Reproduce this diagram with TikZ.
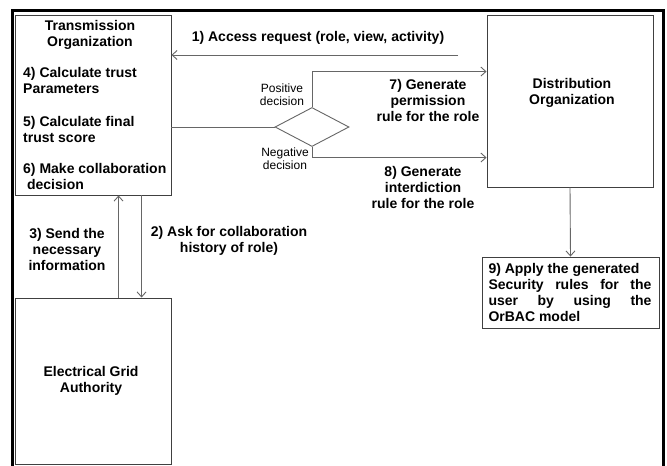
\documentclass[tikz,border=0pt]{standalone}
\usepackage{fontspec}
\setmainfont{Liberation Sans}
\usetikzlibrary{arrows.meta,shapes.geometric,calc}
\begin{document}
\begin{tikzpicture}[x=1pt,y=-1pt,
  box/.style={draw=black!75,line width=0.9pt,inner sep=0pt},
  arr/.style={draw=black!60,line width=0.9pt,-{Straight Barb[length=5pt,width=9pt]}},
  ln/.style={draw=black!60,line width=0.9pt},
  big/.style={font=\bfseries\fontsize{14}{16}\selectfont,inner sep=0pt,align=center},
  bigl/.style={font=\bfseries\fontsize{14}{16}\selectfont,inner sep=0pt,align=left,anchor=west},
  small/.style={font=\fontsize{12}{13}\selectfont,inner sep=0pt,align=center}]
\useasboundingbox (0,0) rectangle (667,466);
\fill[white] (0,0) rectangle (667,466);
\draw[line width=3pt,black] (12,470) -- (12,10) -- (663,10) -- (663,470);
% boxes
\node[box,minimum width=156pt,minimum height=180pt] (TO) at (93,105) {};
\node[box,minimum width=156pt,minimum height=166pt] (EGA) at (93,381) {};
\node[box,minimum width=166pt,minimum height=172pt] (DO) at (570,101) {};
\node[box,minimum width=177pt,minimum height=71pt] (R9) at (570.5,292.5) {};
\node[draw=black!60,line width=0.9pt,diamond,inner sep=0pt,minimum width=74pt,minimum height=39pt,shape aspect=1.9] (dia) at (312,127) {};
% texts
\node[big] (tTO) at (90,35) {Transmission\\Organization};
\node[bigl] (t4) at (23,80.5) {4) Calculate trust\\Parameters};
\node[bigl] (t5) at (23,129) {5) Calculate final\\trust score};
\node[bigl] (t6) at (23,176.5) {6) Make collaboration\\\ decision};
\node[big] (tDO) at (572,92.5) {Distribution\\Organization};
\node[big] (tEGA) at (91,381) {Electrical Grid\\Authority};
\node[font=\bfseries\fontsize{14}{16}\selectfont,inner sep=0pt,text width=163pt,align=justify] (t9) at (570,292) {9)~Apply the generated\\ Security rules for the\linebreak user by using the\linebreak OrBAC model};
\node[big] (l1) at (318,38) {1) Access request (role, view, activity)};
\node[small] (lp) at (282,94.5) {Positive\\decision};
\node[small] (ln) at (285,158.5) {Negative\\decision};
\node[big] (l7) at (428,100) {7) Generate\\permission\\rule for the role};
\node[big] (l8) at (423,187) {8) Generate\\interdiction\\rule for the role};
\node[big] (l3) at (67,249) {3) Send the\\necessary\\information};
\node[big] (l2) at (229,240.5) {2) Ask for collaboration\\history of role)};
% connectors
\coordinate (a1) at (458,55);
\draw[arr] (a1) -- (a1 -| TO.east);
\draw[ln] (dia.west) -- (dia.west -| TO.east);
\draw[arr] (dia.north) |- ($(DO.north west)+(0,57)$);
\draw[arr] (dia.south) |- ($(DO.north west)+(0,143)$);
\draw[arr] ($(EGA.north west)+(104,0)$) -- ($(TO.south west)+(104,0)$);
\draw[arr] ($(TO.south west)+(127,0)$) -- ($(EGA.north west)+(127,0)$);
\draw[arr] (DO.south) -- (R9.north);
\end{tikzpicture}
\end{document}
